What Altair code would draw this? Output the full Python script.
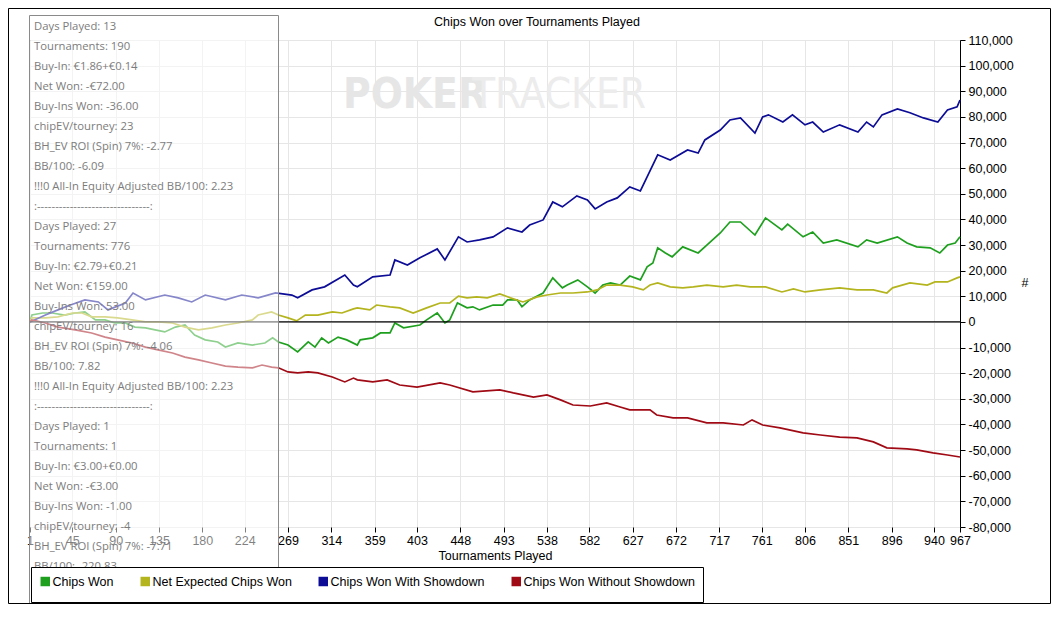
import altair as alt
import pandas as pd

# ---------------- data ----------------
series_names = ["Chips Won", "Net Expected Chips Won",
                "Chips Won With Showdown", "Chips Won Without Showdown"]
series_colors = ["#1ea01e", "#b4b41e", "#0c0c96", "#a00a14"]

x_ticks = [1, 45, 90, 135, 180, 224, 269, 314, 359, 403, 448, 493, 538,
           582, 627, 672, 717, 761, 806, 851, 896, 940, 967]
y_ticks = [-80000, -70000, -60000, -50000, -40000, -30000, -20000, -10000, 0,
           10000, 20000, 30000, 40000, 50000, 60000, 70000, 80000, 90000,
           100000, 110000]

green_t = [1, 3, 14, 24, 37, 48, 58, 69, 79, 89,
           100, 110, 121, 131, 141, 152, 162, 172, 183, 196,
           204, 217, 232, 245, 253, 259, 269, 279, 290, 297,
           304, 311, 321, 330, 341, 344, 357, 365, 375, 380,
           389, 406, 413, 424, 432, 437, 445, 455, 461, 468,
           482, 492, 497, 507, 512, 520, 534, 544, 554, 559,
           570, 580, 588, 596, 604, 614, 624, 635, 642, 648,
           653, 661, 668, 679, 695, 704, 718, 728, 739, 754,
           765, 782, 788, 804, 814, 825, 839, 861, 870, 881,
           902, 912, 922, 936, 946, 954, 962, 967]
green_v = [0, 2700, 3500, 3500, 2700, 3500, 3900, 800, 800, -400,
           -400, -2000, -2300, -3100, -3900, -2000, -1200, -5100, -7000, -7800,
           -9800, -8200, -9000, -8200, -6200, -7800, -9000, -11700, -7800, -9800,
           -6200, -8200, -5900, -7000, -9000, -7000, -6200, -4300, -4300, -400,
           -2300, -1200, 800, 3500, -400, 800, 7400, 5500, 5900, 4700,
           6600, 6600, 8600, 8600, 5900, 8600, 11300, 17200, 13300, 14400,
           16400, 13700, 11300, 14400, 15200, 14400, 17900, 16400, 21500, 23000,
           28900, 26900, 25400, 29300, 26900, 30000, 34700, 39000, 39000, 33900,
           40600, 35900, 38200, 33200, 35100, 30800, 32000, 29300, 32000, 30800,
           33200, 30800, 29300, 28900, 26900, 30000, 30800, 33200]

yellow_t = [1, 3, 17, 30, 45, 55, 65, 79, 92, 107,
            121, 134, 149, 162, 176, 190, 204, 217, 232, 238,
            252, 259, 269, 278, 287, 300, 315, 325, 337, 341,
            354, 361, 375, 385, 399, 413, 427, 437, 446, 455,
            465, 476, 489, 500, 513, 528, 538, 552, 565, 580,
            590, 600, 614, 627, 638, 645, 653, 666, 679, 690,
            704, 721, 735, 749, 765, 782, 794, 806, 822, 842,
            860, 877, 891, 897, 915, 933, 941, 954, 964, 967]
yellow_v = [0, 1600, 1600, 2000, 3500, 3500, 2000, 2000, 1600, 800,
            0, 0, -400, -2000, -3100, -2300, -1200, -400, 800, 2700,
            3900, 2700, 1600, 400, 2700, 2700, 3900, 3500, 5100, 5500,
            4700, 6600, 5900, 5500, 3500, 5500, 7400, 7400, 10100, 9400,
            9800, 9400, 10900, 9400, 7800, 9800, 10500, 11300, 11300, 11700,
            12500, 14400, 14400, 13700, 12500, 14400, 15200, 13700, 13300, 13700,
            14400, 13700, 14400, 13700, 13700, 11700, 12900, 11700, 12500, 13300,
            12500, 12500, 11300, 13300, 15200, 14400, 15600, 15600, 17200, 17600]

blue_t = [1, 17, 30, 43, 58, 72, 82, 100, 108, 121,
          141, 155, 169, 183, 204, 221, 238, 256, 273, 279,
          294, 307, 328, 337, 341, 357, 375, 380, 393, 406,
          424, 432, 446, 455, 468, 482, 497, 512, 520, 534,
          544, 554, 569, 580, 588, 600, 611, 624, 635, 642,
          653, 666, 684, 695, 702, 718, 728, 739, 754, 762,
          768, 783, 793, 806, 814, 825, 842, 861, 870, 877,
          886, 902, 915, 929, 944, 954, 964, 967]
blue_v = [0, 2700, 4700, 6600, 8600, 7800, 4700, 7400, 11300, 8600,
          10500, 9400, 7800, 10500, 8600, 10500, 9400, 11300, 10500, 9400,
          12500, 13700, 18300, 14400, 13700, 17600, 18300, 24200, 22200, 25000,
          28500, 24200, 33200, 31200, 32000, 33200, 36700, 35100, 37800, 39800,
          46800, 44900, 49200, 47600, 44100, 46800, 48400, 52700, 51100, 56600,
          65200, 63200, 67100, 65900, 71000, 74900, 78800, 79600, 73700, 80000,
          80800, 78000, 80800, 76900, 78000, 74100, 76900, 74100, 78000, 76100,
          80800, 83100, 81600, 79600, 78000, 82700, 83900, 86600]

red_t = [1, 3, 17, 30, 48, 65, 79, 92, 107, 121,
         134, 149, 162, 176, 190, 204, 217, 232, 242, 252,
         259, 269, 279, 290, 300, 315, 328, 337, 341, 357,
         372, 385, 403, 427, 437, 461, 489, 503, 524, 538,
         552, 565, 583, 600, 614, 624, 645, 652, 669, 684,
         704, 721, 742, 751, 762, 780, 804, 822, 842, 860,
         877, 891, 912, 922, 939, 954, 967]
red_v = [0, 800, -400, -2000, -3100, -4300, -5900, -7000, -8200, -9800,
         -10900, -12100, -13700, -14800, -16000, -17200, -17600, -17900, -16800, -17600,
         -17900, -19500, -19900, -19500, -19900, -21500, -23400, -21900, -22600, -23400,
         -22600, -24600, -25400, -23800, -24600, -27300, -26500, -27700, -29300, -28500,
         -30400, -32400, -32800, -31600, -33200, -34300, -34300, -36300, -37400, -37400,
         -39400, -39400, -40200, -38200, -40200, -41300, -43300, -44100, -44900, -45200,
         -46800, -49100, -49500, -49900, -51100, -51900, -52700]

stats_lines = [
    "Days Played: 13", "Tournaments: 190", "Buy-In: €1.86+€0.14",
    "Net Won: -€72.00", "Buy-Ins Won: -36.00", "chipEV/tourney: 23",
    "BH_EV ROI (Spin) 7%: -2.77", "BB/100: -6.09",
    "!!!0 All-In Equity Adjusted BB/100: 2.23",
    ":-------------------------------:",
    "Days Played: 27", "Tournaments: 776", "Buy-In: €2.79+€0.21",
    "Net Won: €159.00", "Buy-Ins Won: 53.00", "chipEV/tourney: 16",
    "BH_EV ROI (Spin) 7%: -4.06", "BB/100: 7.82",
    "!!!0 All-In Equity Adjusted BB/100: 2.23",
    ":-------------------------------:",
    "Days Played: 1", "Tournaments: 1", "Buy-In: €3.00+€0.00",
    "Net Won: -€3.00", "Buy-Ins Won: -1.00", "chipEV/tourney: -4",
    "BH_EV ROI (Spin) 7%: -7.71", "BB/100: -220.83",
    "!!!0 All-In Equity Adjusted BB/100: -14.10",
    ":-------------------------------:",
]

chart_title = "Chips Won over Tournaments Played"
x_title = "Tournaments Played"
y_title = "#"

# ---------------- build tables ----------------
frames = []
for name, ts, vs in [(series_names[0], green_t, green_v),
                     (series_names[1], yellow_t, yellow_v),
                     (series_names[2], blue_t, blue_v),
                     (series_names[3], red_t, red_v)]:
    frames.append(pd.DataFrame({"t": ts, "v": vs, "s": name}))
df = pd.concat(frames, ignore_index=True)
one = pd.DataFrame({"v": [0]})   # single row for decorations / zero line

FONT = "Liberation Sans, Arial, sans-serif"
FS = 12.5
W, H = 930, 487
PL, PT, PR, PB = 22, 32, 91, 77
MINUS_FIX = "replace(datum.label, '\u2212', '-')"

Y_ENC = alt.Y(
    "v:Q", scale=alt.Scale(domain=[-80000, 110000], nice=False),
    axis=alt.Axis(orient="right", values=y_ticks, format=",d",
                  labelExpr=MINUS_FIX,
                  title=None, grid=True, gridColor="#e6e6e6",
                  domain=True, domainColor="black",
                  tickColor="black", tickSize=5,
                  labelFont=FONT, labelFontSize=FS, labelColor="black",
                  labelPadding=3, labelOverlap=False))

lines = alt.Chart(df).mark_line(strokeWidth=1.7).encode(
    x=alt.X("t:Q",
            scale=alt.Scale(domain=[1, 967], nice=False, zero=False),
            axis=alt.Axis(values=x_ticks, title=x_title, grid=True,
                          gridColor="#e6e6e6", domain=False,
                          tickColor="black", tickSize=5,
                          labelFont=FONT, labelFontSize=FS, labelColor="black",
                          labelPadding=2, labelOverlap=False, labelFlush=False,
                          titleFont=FONT, titleFontSize=FS,
                          titleFontWeight="normal", titleColor="black",
                          titlePadding=3)),
    y=Y_ENC,
    color=alt.Color("s:N",
                    scale=alt.Scale(domain=series_names, range=series_colors),
                    sort=series_names,
                    legend=alt.Legend(title=None, orient="none",
                                      legendX=1, legendY=527,
                                      direction="horizontal",
                                      symbolType="square", symbolSize=20,
                                      symbolStrokeWidth=5,
                                      labelFont=FONT, labelFontSize=FS,
                                      labelColor="black", labelOffset=1,
                                      labelLimit=400,
                                      columnPadding=19,
                                      strokeColor="black", fillColor="white",
                                      padding=8, zindex=0)),
)

zero = alt.Chart(one).mark_rule(color="black", strokeWidth=1.2).encode(y=Y_ENC)

WM_FONT = "Liberation Sans Narrow, DejaVu Sans Condensed, sans-serif"
wm1 = alt.Chart(one).mark_text(
    text="POKER", font=WM_FONT, fontSize=42, fontWeight="bold",
    color="#e6e6e6", align="left", baseline="alphabetic").encode(
    x=alt.value(313), y=alt.value(68))
wm2 = alt.Chart(one).mark_text(
    text="TRACKER", font=WM_FONT, fontSize=42, fontWeight="normal",
    color="#ececec", align="left", baseline="alphabetic").encode(
    x=alt.value(442), y=alt.value(68))

title_mark = alt.Chart(one).mark_text(
    text=chart_title, font=FONT, fontSize=FS, color="black",
    align="center", baseline="middle").encode(
    x=alt.value(507), y=alt.value(-18))

ytitle_mark = alt.Chart(one).mark_text(
    text=y_title, font=FONT, fontSize=FS, color="black",
    align="center", baseline="middle").encode(
    x=alt.value(995), y=alt.value(243))

overlay = alt.Chart(one).mark_rect(
    fill="white", fillOpacity=0.5, stroke="#8a8a8a", strokeWidth=1).encode(
    x=alt.value(-0.5), x2=alt.value(248.5),
    y=alt.value(-24.5), y2=alt.value(600))

stats = alt.Chart(one).mark_text(
    text="\n".join(stats_lines), lineBreak="\n", lineHeight=20,
    font="Open Sans, Noto Sans, sans-serif", fontSize=11.3, color="#7c7c7c",
    align="left", baseline="middle").encode(
    x=alt.value(4), y=alt.value(-13))

frame = alt.Chart(one).mark_rect(
    fill="transparent", stroke="black", strokeWidth=1).encode(
    x=alt.value(-PL + 0.5), x2=alt.value(W + PR - 0.5),
    y=alt.value(-PT + 0.5), y2=alt.value(H + PB - 0.5))

chart = alt.layer(
    wm1, wm2, lines, zero, title_mark, ytitle_mark, overlay, stats, frame
).properties(
    width=W, height=H,
    autosize=alt.AutoSizeParams(type="none"),
    padding={"left": PL, "top": PT, "right": PR, "bottom": PB},
    background="white",
).configure_view(stroke="black", strokeWidth=1)

chart.save("out.html", embed_options={"renderer": "svg", "actions": False})
